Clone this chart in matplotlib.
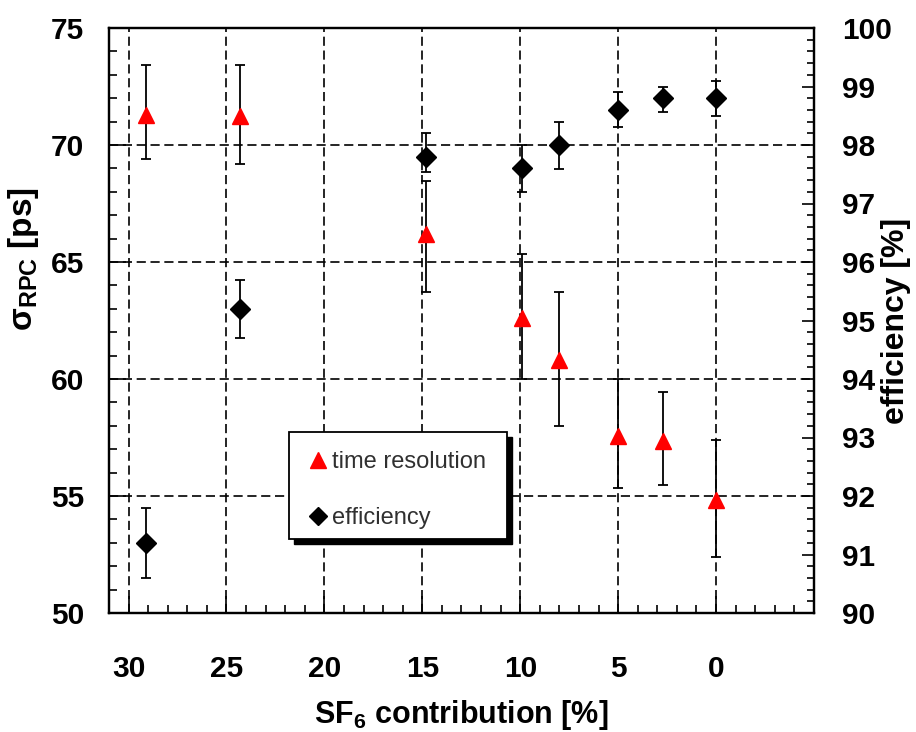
import matplotlib
matplotlib.use("Agg")
import matplotlib.pyplot as plt
from matplotlib.ticker import MultipleLocator
from matplotlib.lines import Line2D
from matplotlib.patches import Rectangle

# ---------------- data ----------------
sf6 = [29.1, 24.3, 14.8, 9.9, 8.0, 5.0, 2.7, 0.0]

sigma = [71.3, 71.25, 66.2, 62.6, 60.8, 57.55, 57.35, 54.85]
sigma_lo = [1.9, 2.05, 2.5, 2.6, 2.8, 2.2, 1.9, 2.45]
sigma_hi = [2.1, 2.15, 2.25, 2.75, 2.9, 2.45, 2.1, 2.55]

eff = [91.2, 95.2, 97.8, 97.6, 98.0, 98.6, 98.8, 98.8]
eff_lo = [0.6, 0.5, 0.27, 0.4, 0.41, 0.3, 0.23, 0.31]
eff_hi = [0.6, 0.5, 0.4, 0.4, 0.4, 0.3, 0.2, 0.3]

x_ticks = [30, 25, 20, 15, 10, 5, 0]
left_ticks = [50, 55, 60, 65, 70, 75]
right_ticks = list(range(90, 101))

labels = ["time resolution", "efficiency"]

# ---------------- style ----------------
plt.rcParams['font.family'] = ['Liberation Sans', 'DejaVu Sans']
plt.rcParams['mathtext.default'] = 'regular'

W, H = 916, 732
fig = plt.figure(figsize=(W / 100, H / 100), dpi=100)
L, R, T, B = 109, 814, 28, 613
ax = fig.add_axes([L / W, 1 - B / H, (R - L) / W, (B - T) / H])
ax2 = ax.twinx()

ax.set_xlim(31, -5)
ax.set_ylim(50, 75)
ax2.set_ylim(90, 100)

for a in (ax, ax2):
    for s in a.spines.values():
        s.set_linewidth(1.6)

ax.set_xticks(x_ticks)
ax.xaxis.set_minor_locator(MultipleLocator(1))
ax.set_yticks(left_ticks)
ax.yaxis.set_minor_locator(MultipleLocator(1))
ax2.set_yticks(right_ticks)
ax2.yaxis.set_minor_locator(MultipleLocator(0.2))

ax.tick_params(axis='x', which='major', direction='in', length=12, width=1.2, pad=30, top=False)
ax.tick_params(axis='x', which='minor', direction='in', length=6, width=1.2, top=False)
ax.tick_params(axis='y', which='major', direction='in', length=12, width=1.2, pad=18, right=False)
ax.tick_params(axis='y', which='minor', direction='in', length=6, width=1.2, right=False)
ax2.tick_params(axis='y', which='major', direction='in', length=9, width=1.2, pad=20)
ax2.tick_params(axis='y', which='minor', direction='in', length=5, width=1.2)
for lab in ax.get_xticklabels() + ax.get_yticklabels() + ax2.get_yticklabels():
    lab.set_fontsize(21.5)
    lab.set_fontweight('bold')

# grid
ax.grid(True, which='major', color='black', linestyle=(0, (5.5, 2.8)), linewidth=1.2)
ax.set_axisbelow(True)

# labels
ax.set_xlabel('SF$_6$ contribution [%]', fontsize=22, fontweight='bold')
ax.xaxis.set_label_coords(0.5, -0.145)
ax.set_ylabel('σ$_{RPC}$ [ps]', fontsize=24, fontweight='bold')
ax.yaxis.set_label_coords(-0.097, 0.605)
ax2.set_ylabel('efficiency [%]', fontsize=23, fontweight='bold')
ax2.yaxis.set_label_coords(1.0955, 0.5)

# data
ax.errorbar(sf6, sigma, yerr=[sigma_lo, sigma_hi], fmt='^', color='red', ms=12,
            ecolor='black', elinewidth=1.3, capsize=3.3, capthick=1.3, mec='red', zorder=3)
ax2.errorbar(sf6, eff, yerr=[eff_lo, eff_hi], fmt='D', color='black', ms=10,
             ecolor='black', elinewidth=1.3, capsize=3.3, capthick=1.3, zorder=4)

# legend box with shadow
bx0, bx1 = (289 - L) / (R - L), (507 - L) / (R - L)
by0, by1 = (B - 539) / (B - T), (B - 432) / (B - T)
off_x, off_y = 5 / (R - L), 5 / (B - T)
ax2.add_patch(Rectangle((bx0 + off_x, by0 - off_y), bx1 - bx0, by1 - by0, transform=ax2.transAxes,
                        facecolor='black', edgecolor='black', zorder=8, clip_on=False))
ax2.add_patch(Rectangle((bx0, by0), bx1 - bx0, by1 - by0, transform=ax2.transAxes,
                        facecolor='white', edgecolor='black', linewidth=1.3, zorder=9, clip_on=False))
handles = [Line2D([], [], marker='^', color='red', linestyle='none', ms=11),
           Line2D([], [], marker='D', color='black', linestyle='none', ms=9)]
leg_y = (B - 490) / (B - T)
leg = ax2.legend(handles, labels, loc='center left', bbox_to_anchor=(bx0 - 0.004, leg_y),
                 bbox_transform=ax2.transAxes, frameon=False, fontsize=17, handlelength=0.9,
                 handletextpad=0.12, labelspacing=1.45, labelcolor='#303030')
leg.set_zorder(10)

fig.savefig('out.png', dpi=100)
